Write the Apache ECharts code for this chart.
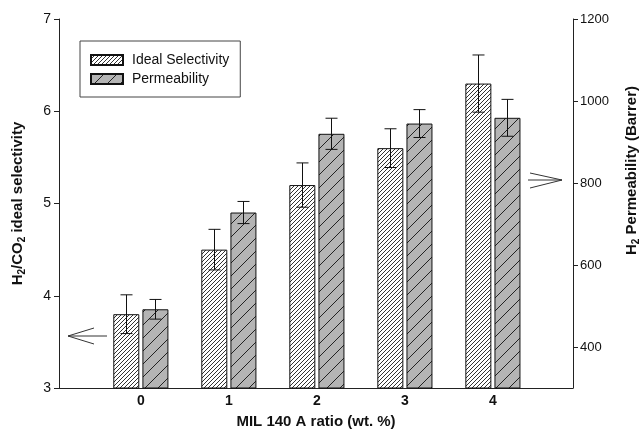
<!DOCTYPE html>
<html>
<head>
<meta charset="utf-8">
<script src="https://cdn.jsdelivr.net/npm/echarts@6/dist/echarts.min.js"></script>
<style>
  html, body { margin: 0; padding: 0; background: #fff; }
  #chart { width: 643px; height: 433px; }
</style>
</head>
<body>
<div id="chart"></div>
<script>
// data
var ratios = [0, 1, 2, 3, 4];
var selectivity = [3.8, 4.5, 5.2, 5.6, 6.3];
var selectivityErr = [0.21, 0.22, 0.24, 0.21, 0.31];
var permeability = [492, 728, 920, 945, 959];
var permeabilityErr = [24, 27, 38, 34, 45];
var leftTicks = [3, 4, 5, 6, 7];
var rightTicks = [400, 600, 800, 1000, 1200];

var FONT = 'Liberation Sans, Arial, sans-serif';

// hatch fills
function hatch(size, bg, line) {
  var c = document.createElement('canvas');
  c.width = size; c.height = size;
  var ctx = c.getContext('2d');
  ctx.fillStyle = bg;
  ctx.fillRect(0, 0, size, size);
  ctx.strokeStyle = line;
  ctx.lineWidth = 1;
  ctx.beginPath();
  for (var k = -1; k <= 1; k++) {
    ctx.moveTo(k * size, size);
    ctx.lineTo(k * size + size, 0);
  }
  ctx.stroke();
  return { image: c, repeat: 'repeat' };
}
var denseHatch = hatch(4, '#ffffff', '#333333');
var sparseHatch = hatch(13, '#b4b4b4', '#222222');

function pairs(xs, ys) {
  return xs.map(function (x, i) { return [x, ys[i]]; });
}
function errData(xs, ys, es) {
  return xs.map(function (x, i) { return [x, ys[i] - es[i], ys[i] + es[i]]; });
}
function errRender(offset) {
  return function (params, api) {
    var top = api.coord([api.value(0), api.value(2)]);
    var bot = api.coord([api.value(0), api.value(1)]);
    var x = Math.round(top[0] + offset) + 0.5;
    var cap = 6;
    var st = { stroke: '#111', lineWidth: 1 };
    return {
      type: 'group',
      children: [
        { type: 'line', shape: { x1: x, y1: top[1], x2: x, y2: bot[1] }, style: st },
        { type: 'line', shape: { x1: x - cap, y1: top[1], x2: x + cap, y2: top[1] }, style: st },
        { type: 'line', shape: { x1: x - cap, y1: bot[1], x2: x + cap, y2: bot[1] }, style: st }
      ]
    };
  };
}

var nameRich = {
  n: { fontSize: 15, fontWeight: 'bold', color: '#111', fontFamily: FONT },
  s: { fontSize: 10, fontWeight: 'bold', color: '#111', fontFamily: FONT, padding: [8, 0, 0, 0] }
};

var myChart = echarts.init(document.getElementById('chart'));
var option = {
  animation: false,
  textStyle: { fontFamily: FONT },
  grid: { left: 59, right: 70, top: 19, bottom: 45, outerBoundsMode: 'none', containLabel: false },
  legend: {
    left: 80, top: 41,
    orient: 'vertical',
    data: ['Ideal Selectivity', 'Permeability'],
    icon: 'rect',
    itemWidth: 32, itemHeight: 10, itemGap: 5,
    padding: [12, 11, 11, 10],
    borderColor: '#444', borderWidth: 1,
    textStyle: { fontSize: 14, color: '#111', fontFamily: FONT, padding: [0, 0, 0, 4] }
  },
  xAxis: {
    type: 'value',
    min: -0.93, max: 4.91,
    splitLine: { show: false },
    axisLine: { onZero: false, lineStyle: { color: '#222' } },
    axisTick: { show: false },
    axisLabel: {
      customValues: ratios,
      fontSize: 14, fontWeight: 'bold', color: '#111', margin: 6
    },
    name: 'MIL 140 A ratio (wt. %)',
    nameLocation: 'middle', nameGap: 26,
    nameTextStyle: { fontSize: 15, fontWeight: 'bold', color: '#111' }
  },
  yAxis: [
    {
      type: 'value', min: 3, max: 7,
      splitLine: { show: false },
      axisLine: { show: true, onZero: false, lineStyle: { color: '#222' } },
      axisTick: { show: true, length: 5, customValues: leftTicks, lineStyle: { color: '#222' } },
      axisLabel: { customValues: leftTicks, fontSize: 14, color: '#111', margin: 8 },
      name: '{n|H}{s|2}{n|/CO}{s|2}{n| ideal selectivity}',
      nameLocation: 'middle', nameGap: 32, nameRotate: 90,
      nameTextStyle: { rich: nameRich }
    },
    {
      type: 'value', min: 300, max: 1200,
      position: 'right',
      splitLine: { show: false },
      axisLine: { show: true, onZero: false, lineStyle: { color: '#222' } },
      axisTick: { show: true, length: 5, customValues: rightTicks, lineStyle: { color: '#222' } },
      axisLabel: {
        customValues: rightTicks, fontSize: 13, color: '#111', margin: 7,
        formatter: function (v) { return String(v); }
      },
      name: '{n|H}{s|2}{n| Permeability (Barrer)}',
      nameLocation: 'middle', nameGap: 50, nameRotate: 90,
      nameTextStyle: { rich: nameRich, padding: [0, 0, 0, 66] }
    }
  ],
  series: [
    {
      name: 'Ideal Selectivity',
      type: 'bar',
      yAxisIndex: 0,
      barWidth: 26, barGap: '12%',
      itemStyle: { color: denseHatch, borderColor: '#111', borderWidth: 1 },
      data: pairs(ratios, selectivity)
    },
    {
      name: 'Permeability',
      type: 'bar',
      yAxisIndex: 1,
      barWidth: 26, barGap: '12%',
      itemStyle: { color: sparseHatch, borderColor: '#111', borderWidth: 1 },
      data: pairs(ratios, permeability)
    },
    {
      type: 'custom', yAxisIndex: 0, z: 5,
      renderItem: errRender(-14.5),
      data: errData(ratios, selectivity, selectivityErr)
    },
    {
      type: 'custom', yAxisIndex: 1, z: 5,
      renderItem: errRender(14.5),
      data: errData(ratios, permeability, permeabilityErr)
    }
  ],
  // the two arrows pointing to each axis
  graphic: [
    { type: 'polyline', shape: { points: [[68, 336], [107, 336]] }, style: { stroke: '#333', lineWidth: 1, fill: null } },
    { type: 'polyline', shape: { points: [[94, 328], [68, 336], [94, 344]] }, style: { stroke: '#333', lineWidth: 1, fill: null } },
    { type: 'polyline', shape: { points: [[528, 180], [562, 180]] }, style: { stroke: '#333', lineWidth: 1, fill: null } },
    { type: 'polyline', shape: { points: [[530, 173], [562, 180], [530, 188]] }, style: { stroke: '#333', lineWidth: 1, fill: null } }
  ]
};
myChart.setOption(option);
</script>
</body>
</html>
